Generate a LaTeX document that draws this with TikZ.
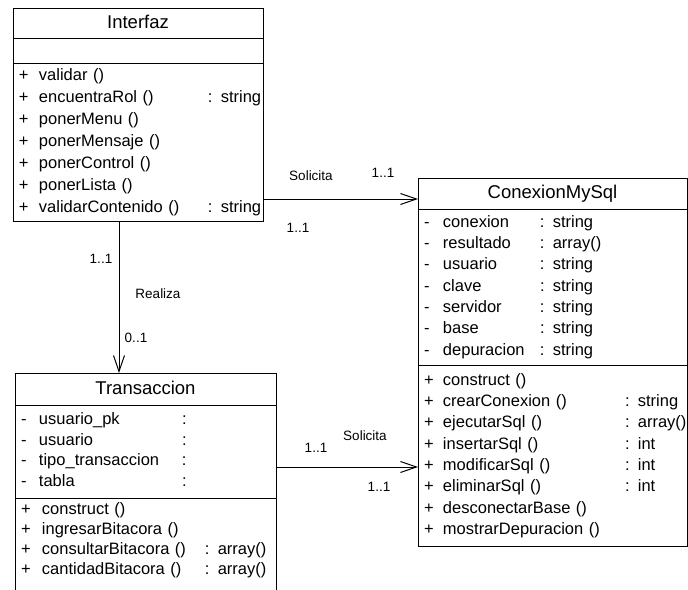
\documentclass[tikz,border=0pt]{standalone}
\usepackage{fontspec}
\setmainfont{Liberation Sans}
\usepackage{tikz}
\usetikzlibrary{arrows.meta, positioning}

\begin{document}
\begin{tikzpicture}[
  x=1pt, y=-1pt,
  classname/.style={rectangle, draw=black, line width=1pt, outer sep=0pt, inner sep=0pt, font=\fontsize{18.5}{22}\selectfont, text height=13.5pt, text depth=3.5pt},
  members/.style={rectangle, draw=black, line width=1pt, outer sep=0pt, inner xsep=6pt, inner ysep=0pt, align=left, font=\fontsize{16.5}{#1}\selectfont},
  members/.default=21.5pt,
  lbl/.style={font=\fontsize{13.5}{16}\selectfont, inner sep=0pt},
  assoc/.style={-{Straight Barb[length=16pt, width=11pt]}, line width=1pt}
]
\useasboundingbox (0,0) rectangle (688,589);
\clip (0,0) rectangle (688,589);

% Interfaz
\node[classname, minimum width=250pt, minimum height=30pt, anchor=north west] (intName) at (13,8) {Interfaz};
\node[members, text width=238pt, minimum height=25pt, below=0pt of intName] (intAttr) {};
\node[members=22pt, text width=238pt, minimum height=158pt, below=0pt of intAttr] (intOps) {%
  \begin{tabular}{@{}p{20pt}@{}p{169pt}@{}l@{}}
  + & validar () & \\
  + & encuentraRol () & : string\\
  + & ponerMenu () & \\
  + & ponerMensaje () & \\
  + & ponerControl () & \\
  + & ponerLista () & \\
  + & validarContenido () & : string
  \end{tabular}};

% ConexionMySql
\node[classname, minimum width=269pt, minimum height=31pt, anchor=north west] (conName) at (418,178) {ConexionMySql};
\node[members=21.3pt, text width=257pt, minimum height=156pt, below=0pt of conName] (conAttr) {%
  \begin{tabular}{@{}p{19pt}@{}p{97pt}@{}l@{}}
  - & conexion & : string\\
  - & resultado & : array()\\
  - & usuario & : string\\
  - & clave & : string\\
  - & servidor & : string\\
  - & base & : string\\
  - & depuracion & : string
  \end{tabular}};
\node[members=21.3pt, text width=257pt, minimum height=181pt, below=0pt of conAttr] (conOps) {%
  \begin{tabular}{@{}p{19pt}@{}p{182pt}@{}l@{}}
  + & construct () & \\
  + & crearConexion () & : string\\
  + & ejecutarSql () & : array()\\
  + & insertarSql () & : int\\
  + & modificarSql () & : int\\
  + & eliminarSql () & : int\\
  + & desconectarBase () & \\
  + & mostrarDepuracion () &
  \end{tabular}};

% Transaccion
\node[classname, minimum width=261pt, minimum height=32pt, anchor=north west] (tName) at (15,373) {Transaccion};
\node[members=20.7pt, text width=249pt, minimum height=93pt, below=0pt of tName] (tAttr) {%
  \begin{tabular}{@{}p{18pt}@{}p{143pt}@{}l@{}}
  - & usuario\_pk & :\\
  - & usuario & :\\
  - & tipo\_transaccion & :\\
  - & tabla & :
  \end{tabular}};
\node[members=20pt, text width=249pt, inner ysep=2pt, text depth=80pt, below=0pt of tAttr] (tOps) {%
  \begin{tabular}[t]{@{}p{21pt}@{}p{163pt}@{}l@{}}
  + & construct () & \\
  + & ingresarBitacora () & \\
  + & consultarBitacora () & : array()\\
  + & cantidadBitacora () & : array()
  \end{tabular}};

% labels
\node[lbl] (solTop) at (311,176) {Solicita};
\node[lbl] (mTopA) at (383,173) {1..1};
\node[lbl] (mTopB) at (298,228) {1..1};
\node[lbl] (mRealA) at (101,259) {1..1};
\node[lbl] (realiza) at (158,294) {Realiza};
\node[lbl] (mRealB) at (136,338) {0..1};
\node[lbl] (mBotA) at (316,448) {1..1};
\node[lbl] (solBot) at (365,436) {Solicita};
\node[lbl] (mBotB) at (379,487) {1..1};

\draw[assoc] (intOps.east |- 0,199) -- (conName.west |- 0,199);
\draw[assoc] (intOps.south -| 119,0) -- (tName.north -| 119,0);
\draw[assoc] (tAttr.east |- 0,467) -- (conOps.west |- 0,467);

\end{tikzpicture}
\end{document}
